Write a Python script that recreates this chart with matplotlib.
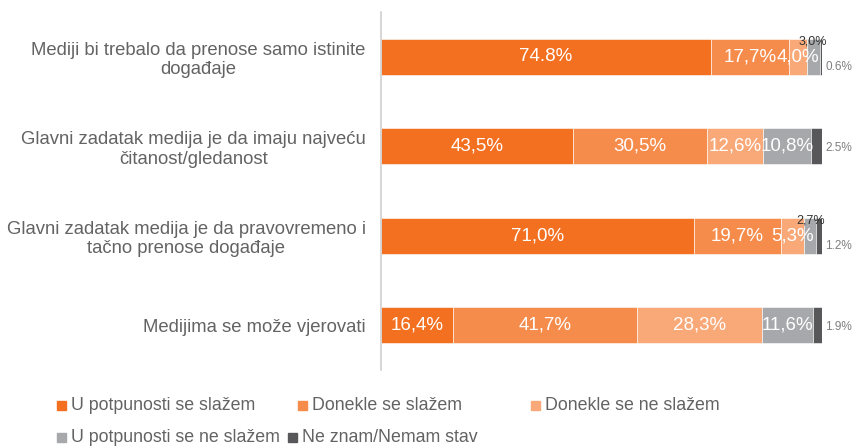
import matplotlib.pyplot as plt
from matplotlib.patches import Rectangle

categories = [
    "Mediji bi trebalo da prenose samo istinite\ndogađaje",
    "Glavni zadatak medija je da imaju najveću\nčitanost/gledanost",
    "Glavni zadatak medija je da pravovremeno i\ntačno prenose događaje",
    "Medijima se može vjerovati",
]
series_names = ["U potpunosti se slažem", "Donekle se slažem", "Donekle se ne slažem",
                "U potpunosti se ne slažem", "Ne znam/Nemam stav"]
values = [
    [74.8, 17.7, 4.0, 3.0, 0.6],
    [43.5, 30.5, 12.6, 10.8, 2.5],
    [71.0, 19.7, 5.3, 2.7, 1.2],
    [16.4, 41.7, 28.3, 11.6, 1.9],
]
labels = [
    ["74.8%", "17,7%", "4,0%", "3,0%", "0.6%"],
    ["43,5%", "30,5%", "12,6%", "10,8%", "2.5%"],
    ["71,0%", "19,7%", "5,3%", "2,7%", "1.2%"],
    ["16,4%", "41,7%", "28,3%", "11,6%", "1.9%"],
]
colors = ["#F37021", "#F68C4C", "#F9A878", "#A7A8AB", "#58585A"]

plt.rcParams['font.family'] = ['Liberation Sans', 'DejaVu Sans']
txt_color = "#636363"

fig = plt.figure(figsize=(8.52, 4.46), dpi=100)
ax = fig.add_axes([381 / 852, 76 / 446, 441 / 852, 358 / 446])

y = list(range(len(categories)))
left = [0.0] * len(categories)
for j, name in enumerate(series_names):
    vals = [row[j] for row in values]
    ax.barh(y, vals, left=left, height=0.40, color=colors[j], edgecolor="white", linewidth=0.4)
    for i, v in enumerate(vals):
        lab = labels[i][j]
        cx = left[i] + v / 2
        if j < 3 or (j == 3 and v > 8):
            ax.text(cx, i, lab, ha="center", va="center", color="white", fontsize=13.5)
        elif j == 3:
            ax.text(cx, i - 0.17, lab, ha="center", va="center", color="#333333", fontsize=9)
        else:
            ax.text(left[i] + v + 0.8, i + (0.12 if v < 1.5 else 0.02), lab, ha="left", va="center",
                    color="#7f7f7f", fontsize=8.5, clip_on=False)
    left = [l + v for l, v in zip(left, vals)]

ax.set_xlim(0, 100)
ax.set_ylim(3.5, -0.5)
ax.set_yticks(y)
ax.set_yticklabels(categories, fontsize=13.3, color=txt_color, multialignment="center")
ax.tick_params(axis="y", length=0, pad=11)
ax.set_xticks([])
for s in ["top", "right", "bottom"]:
    ax.spines[s].set_visible(False)
ax.spines["left"].set_color("#d0d0d0")
ax.spines["left"].set_linewidth(1.2)

# legend laid out like the original
leg_pos = [(57, 405), (298, 405), (531, 405), (57, 437), (288, 437)]
for (px, py), name, c in zip(leg_pos, series_names, colors):
    fig.add_artist(Rectangle((px / 852, 1 - (py + 5) / 446), 9 / 852, 9 / 446,
                             transform=fig.transFigure, color=c))
    fig.text((px + 14) / 852, 1 - py / 446, name, ha="left", va="center",
             fontsize=12.8, color=txt_color)

fig.savefig("out.png", dpi=100)
